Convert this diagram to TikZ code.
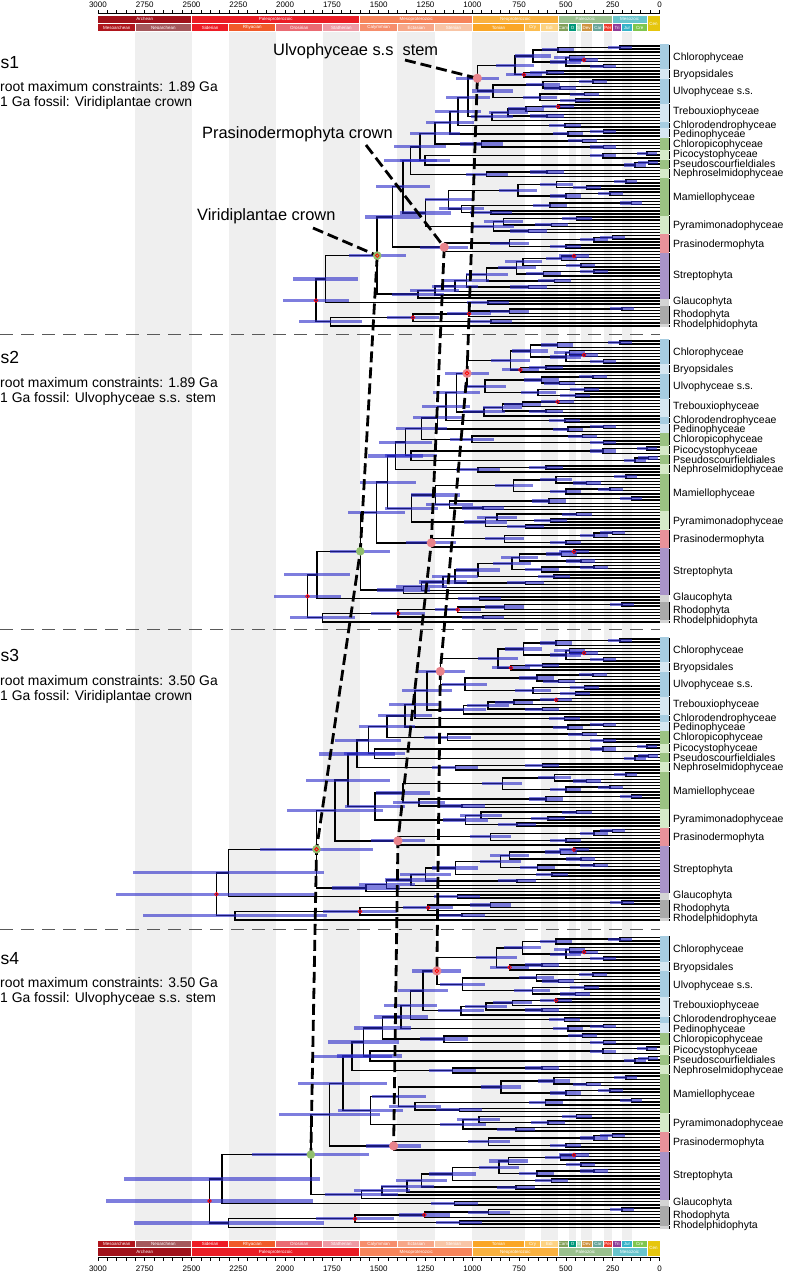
\documentclass[tikz,border=0pt]{standalone}
\usepackage{fontspec}
\setmainfont{Liberation Sans}
\definecolor{bandC}{HTML}{EFEFEF}
\definecolor{cArch}{HTML}{A0121B}\definecolor{cPaleoP}{HTML}{EA1D25}\definecolor{cMesoP}{HTML}{F6845A}
\definecolor{cNeoP}{HTML}{F9B13F}\definecolor{cPaleoz}{HTML}{99C08D}\definecolor{cMesoz}{HTML}{67C4CC}
\definecolor{cCen}{HTML}{E6C60E}
\definecolor{cMesoA}{HTML}{B0151C}\definecolor{cNeoA}{HTML}{A5585C}\definecolor{cSid}{HTML}{EE1C25}
\definecolor{cRhy}{HTML}{F15A29}\definecolor{cOro}{HTML}{EA6B73}\definecolor{cSta}{HTML}{EE9AA5}
\definecolor{cCal}{HTML}{F68E6C}\definecolor{cEct}{HTML}{F7A788}\definecolor{cSte}{HTML}{F8C5A6}
\definecolor{cTon}{HTML}{FAA625}\definecolor{cCry}{HTML}{FCBD4F}\definecolor{cEdi}{HTML}{FDD383}
\definecolor{cCam}{HTML}{82A05A}\definecolor{cOrd}{HTML}{00987A}\definecolor{cSil}{HTML}{A8DDB5}
\definecolor{cDev}{HTML}{CF9440}\definecolor{cCar}{HTML}{67A599}\definecolor{cPer}{HTML}{EF3B2C}
\definecolor{cTri}{HTML}{8E3B97}\definecolor{cJur}{HTML}{34B2C9}\definecolor{cCre}{HTML}{7FC64E}
\definecolor{bA}{HTML}{A7CDE1}\definecolor{bB}{HTML}{D6E7F1}
\definecolor{gA}{HTML}{9BC283}\definecolor{gB}{HTML}{D6EAC9}
\definecolor{pA}{HTML}{E8929A}\definecolor{sA}{HTML}{A893C8}
\definecolor{kA}{HTML}{AAAAAA}\definecolor{kB}{HTML}{D4D4D4}
\definecolor{pinkC}{HTML}{E8838B}\definecolor{greenC}{HTML}{90BE6D}
\definecolor{hpdC}{RGB}{40,40,200}
\newcommand\fsz[1]{\fontsize{#1}{#1}\selectfont}
\newcount\tipn
\newcount\stk
\gdef\BarList{}
\gdef\MarkList{}
\def\AddBar#1{\xdef\BarList{\unexpanded\expandafter{\BarList}#1}}
\def\AddMark#1{\xdef\MarkList{\unexpanded\expandafter{\MarkList}#1}}
\def\Spush#1#2{\global\advance\stk by 1\relax
  \expandafter\xdef\csname SY\the\stk\endcsname{#1}%
  \expandafter\xdef\csname SA\the\stk\endcsname{#2}}
\def\Tp{\pgfmathsetmacro\qTy{\Ybase+\Tsp*\the\tipn}\global\advance\tipn by 1\relax\Spush{\qTy}{0}}
\def\Jn#1{%
  \edef\qYa{\csname SY\the\numexpr\stk-1\relax\endcsname}%
  \edef\qAa{\csname SA\the\numexpr\stk-1\relax\endcsname}%
  \edef\qYb{\csname SY\the\stk\endcsname}%
  \edef\qAb{\csname SA\the\stk\endcsname}%
  \global\advance\stk by -2\relax
  \pgfmathsetmacro\qRr{min(1,max(0,(#1-500)/500))}%
  \pgfmathsetmacro\qNa{#1<1600 ? #1*(1+(\PF-1)*\qRr) : #1*\PR}%
  \pgfmathsetmacro\qXn{659.5-0.1872*\qNa}%
  \pgfmathsetmacro\qXa{659.5-0.1872*\qAa}%
  \pgfmathsetmacro\qXb{659.5-0.1872*\qAb}%
  \pgfmathsetmacro\qYm{(\qYa+\qYb)/2}%
  \draw[br] (\qXa,\qYa) -- (\qXn,\qYa) -- (\qXn,\qYb) -- (\qXb,\qYb);%
  \pgfmathsetmacro\qHw{9+0.013*\qNa+\PE*max(0,\qNa-1500)}%
  \pgfmathsetmacro\qXl{\qXn-\qHw}%
  \pgfmathsetmacro\qXr{min(659,\qXn+\qHw)}%
  \pgfmathsetmacro\qYt{\qYm-1.6}\pgfmathsetmacro\qYu{\qYm+1.6}%
  \AddBar{\noexpand\fill[hpd] (\qXl,\qYt) rectangle (\qXr,\qYu);}%
  \Spush{\qYm}{\qNa}}
\def\RedMark{\AddMark{\noexpand\draw[redring] (\qXn,\qYm) circle[radius=1.8pt];}}
\def\Jr#1{\Jn{#1}\RedMark}
\def\Ju#1{\Jn{#1}\coordinate (ulvo\pn) at (\qXn,\qYm);\AddMark{\noexpand\fill[pinkC] (\qXn,\qYm) circle[radius=4.6pt];}\ifnum\ured=1 \RedMark\fi}
\def\Jq#1{\Jn{#1}\coordinate (prasino\pn) at (\qXn,\qYm);\AddMark{\noexpand\fill[pinkC] (\qXn,\qYm) circle[radius=4.6pt];}}
\def\Jv#1{\Jn{#1}\coordinate (viridi\pn) at (\qXn,\qYm);\AddMark{\noexpand\fill[greenC] (\qXn,\qYm) circle[radius=4.3pt];}\ifnum\vred=1 \RedMark\fi}
\def\TreeRPN{%
\Tp\Tp\Jn{211}\Tp\Jn{543}\Tp\Tp\Tp\Jr{403}\Jn{480}\Tp\Tp\Jn{300}\Jn{500}\Jn{676}%
\Tp\Tp\Jn{600}\Tp\Jr{724}\Jn{772}%
\Tp\Tp\Jn{355}\Tp\Tp\Jn{532}\Jn{622}\Tp\Tp\Jn{400}\Tp\Tp\Jn{450}\Jn{638}\Jn{890}%
\Ju{973}%
\Tp\Tp\Jr{542}\Tp\Jn{713}\Tp\Tp\Jn{600}\Jn{809}\Tp\Jn{895}\Jn{1023}%
\Tp\Tp\Jn{505}\Jn{1076}%
\Tp\Tp\Jn{300}\Tp\Jn{489}\Jn{1119}%
\Tp\Tp\Jn{410}\Tp\Tp\Jn{300}\Jn{950}\Jn{1199}%
\Tp\Tp\Jn{68}\Tp\Jn{302}\Tp\Tp\Jn{60}\Tp\Jn{130}\Jn{1253}\Jn{1280}%
\Tp\Tp\Jn{600}\Tp\Jn{923}\Jn{1330}%
\Tp\Tp\Jn{180}\Tp\Tp\Jn{389}\Jn{550}\Tp\Tp\Jn{264}\Tp\Jn{500}\Jn{756}\Tp\Tp\Jn{150}\Tp\Jn{585}\Tp\Tp\Jn{900}\Jn{1057}\Jn{1128}%
\Tp\Tp\Jn{442}\Tp\Tp\Jn{576}\Jn{834}\Tp\Tp\Jn{700}\Jn{888}\Jn{1250}%
\Jn{1370}%
\Tp\Tp\Jn{250}\Tp\Jn{350}\Tp\Tp\Jn{500}\Jn{800}\Tp\Jq{1150}\Jn{1427}%
\Tp\Tp\Jr{457}\Tp\Jn{523}\Tp\Tp\Jn{420}\Jn{729}\Tp\Tp\Jn{350}\Tp\Jn{620}\Jn{763}\Tp\Tp\Jn{560}\Jn{923}\Tp\Tp\Jn{700}\Jn{1030}\Tp\Jn{1092}\Tp\Jn{1200}\Tp\Jn{1290}%
\Jv{1508}%
\Tp\Tp\Jn{916}\Jn{1785}%
\Tp\Tp\Jn{200}\Tp\Jn{800}\Tp\Jr{1017}\Tp\Tp\Jn{900}\Jr{1317}%
\Tp\Jn{1757}\Jr{1835}}
\newcommand\Panel[8]{%
  \def\pn{#1}\def\Ybase{#2}\def\Tsp{#3}\def\PF{#4}\def\PR{#5}\def\PE{#6}\def\vred{#7}\def\ured{#8}%
  \global\tipn=0 \global\stk=0 \TreeRPN
  \foreach \qi/\qj/\qc/\ql/\qd/\qk in {0/7/bA/Chlorophyceae/0/1, 8/10/bB/Bryopsidales/0/1,
     11/18/bA/Ulvophyceae s.s./0/1, 19/24/bB/Trebouxiophyceae/-2/1, 25/26/bA/Chlorodendrophyceae/-1/1,
     27/29/bB/Pedinophyceae/0.6/1, 30/33/gA/Chloropicophyceae/-0.6/1, 34/36/gB/Picocystophyceae/-0.8/1,
     37/39/gA/Pseudoscourfieldiales/0/1, 40/42/gB/Nephroselmidophyceae/-0.3/1, 43/54/gA/Mamiellophyceae/0/1,
     55/60/gB/Pyramimonadophyceae/0/1, 61/66/pA/Prasinodermophyta/0/1, 67/81/sA/Streptophyta/-1.5/1,
     82/83/kB/Glaucophyta/-1.5/0, 84/89/kA/Rhodophyta/-1.5/1, 90/90/kB/Rhodelphidophyta/-2.5/1}{
    \pgfmathsetmacro\qT{\Ybase+\Tsp*(\qi-0.5)}
    \pgfmathsetmacro\qB{\Ybase+\Tsp*(\qj+0.5)}
    \fill[\qc] (659.5,\qT) rectangle (668.5,\qB);
    \ifnum\qk=1 \draw[line width=1.5pt] (669.6,\qT+0.4) -- (669.6,\qB-0.4);\fi
    \pgfmathsetmacro\qM{(\qT+\qB)/2+\qd+3.7}
    \node[anchor=base west, font=\fsz{10.5}, inner sep=0] at (673,\qM) {\ql};
  }}
\begin{document}
\begin{tikzpicture}[x=1pt,y=-1pt,
  br/.style={line width=1.45pt, black, line join=miter},
  hpd/.style={fill=hpdC, fill opacity=0.6},
  redring/.style={draw=red, line width=0.8pt},
  thickdash/.style={line width=2.8pt, dash pattern=on 11pt off 5pt, black},
  sepline/.style={draw=black!65, line width=0.7pt, dash pattern=on 13pt off 8pt},
  tsl/.style={font=\fsz{4.5}, text=white, inner sep=0},
  axl/.style={font=\fsz{8}, inner sep=0},
  side/.style={font=\fsz{13.9}, anchor=base west, inner sep=0},
  big/.style={font=\fsz{17.5}, anchor=base west, inner sep=0},
  ann/.style={font=\fsz{16.4}, anchor=base west, inner sep=0}]
\useasboundingbox (0,0) rectangle (788,1275);
\fill[white] (0,0) rectangle (788,1275);
% period shading
\foreach \qa/\qb in {2800/2500, 2300/2050, 1800/1600, 1400/1200, 1000/720, 635/541, 485/444, 419/359, 299/252, 201/145}{
  \fill[bandC] ({659.5-0.1872*\qa},32) rectangle ({659.5-0.1872*\qb},1240);}
% time scales
\foreach \qa/\qb/\qc/\ql in {3000/2500/cArch/Archean, 2500/1600/cPaleoP/Paleoproterozoic, 1600/1000/cMesoP/Mesoproterozoic,
   1000/541/cNeoP/Neoproterozoic, 541/252/cPaleoz/Paleozoic, 252/66/cMesoz/Mesozoic}{
  \pgfmathsetmacro\qL{659.5-0.1872*\qa+0.5}\pgfmathsetmacro\qR{659.5-0.1872*\qb-0.5}
  \fill[\qc] (\qL,16) rectangle (\qR,22.7);
  \node[tsl] at ({(\qL+\qR)/2},19.35) {\ql};
  \fill[\qc] (\qL,1248.4) rectangle (\qR,1256);
  \node[tsl] at ({(\qL+\qR)/2},1252.2) {\ql};}
\foreach \qa/\qb/\qc/\ql in {3000/2800/cMesoA/Mesoarchean, 2800/2500/cNeoA/Neoarchean, 2500/2300/cSid/Siderian,
   2300/2050/cRhy/Rhyacian, 2050/1800/cOro/Orosirian, 1800/1600/cSta/Statherian, 1600/1400/cCal/Calymmian,
   1400/1200/cEct/Ectasian, 1200/1000/cSte/Stenian, 1000/720/cTon/Tonian, 720/635/cCry/Cry, 635/541/cEdi/Edi,
   541/485/cCam/Cam, 485/444/cOrd/O, 444/419/cSil/S, 419/359/cDev/Dev, 359/299/cCar/Car, 299/252/cPer/Per,
   252/201/cTri/Tri, 201/145/cJur/Jur, 145/66/cCre/Cre}{
  \pgfmathsetmacro\qL{659.5-0.1872*\qa+0.5}\pgfmathsetmacro\qR{659.5-0.1872*\qb-0.5}
  \fill[\qc] (\qL,24) rectangle (\qR,31);
  \node[tsl] at ({(\qL+\qR)/2},27.5) {\ql};
  \fill[\qc] (\qL,1240.7) rectangle (\qR,1247.2);
  \node[tsl] at ({(\qL+\qR)/2},1244) {\ql};}
\fill[cCen] ({659.5-0.1872*66+0.5},16) rectangle (659.5,31);
\node[tsl] (cenT) at ({(659.5-0.1872*66+0.5+659.5)/2},23.5) {Cen};
\fill[cCen] ({659.5-0.1872*66+0.5},1240.7) rectangle (659.5,1256);
\node[tsl] (cenB) at ({(659.5-0.1872*66+0.5+659.5)/2},1248.4) {Cen};
% axes
\draw[line width=0.7pt] (97.9,13.8) -- (659.5,13.8);
\draw[line width=0.7pt] (97.9,1257.4) -- (659.5,1257.4);
\foreach \qa in {0,50,...,3000}{
  \draw[line width=0.6pt] ({659.5-0.1872*\qa},13.8) -- ({659.5-0.1872*\qa},10.2);
  \draw[line width=0.6pt] ({659.5-0.1872*\qa},1257.4) -- ({659.5-0.1872*\qa},1261);}
\foreach \qa in {0,250,...,3000}{
  \node[axl] at ({659.5-0.1872*\qa},4.5) {\qa};
  \node[axl] at ({659.5-0.1872*\qa},1268.5) {\qa};}
% separators
\foreach \qy in {334,629,929}{\draw[sepline] (0,\qy) -- (660,\qy);}
% panels
\Panel{1}{46}{3.11}{1}{1}{0}{1}{0}
\Panel{2}{341}{3.12}{1.06}{1.025}{0}{0}{1}
\Panel{3}{639}{3.12}{1.215}{1.29}{0.07}{1}{0}
\Panel{4}{937.6}{3.22}{1.235}{1.31}{0.07}{0}{1}
% HPD bars on top of branches
\BarList
% panel texts
\node[big] (t1) at (0.5,68.3) {s1};
\node[side] (r1) at (0,91.7) {root maximum constraints: 1.89 Ga};
\node[side] (f1) at (0,106.7) {1 Ga fossil: Viridiplantae crown};
\node[big] (t2) at (0.5,363.6) {s2};
\node[side] (r2) at (0,387) {root maximum constraints: 1.89 Ga};
\node[side] (f2) at (0,402) {1 Ga fossil: Ulvophyceae s.s. stem};
\node[big] (t3) at (0.5,661.6) {s3};
\node[side] (r3) at (0,685) {root maximum constraints: 3.50 Ga};
\node[side] (f3) at (0,700) {1 Ga fossil: Viridiplantae crown};
\node[big] (t4) at (0.5,964.3) {s4};
\node[side] (r4) at (0,987.7) {root maximum constraints: 3.50 Ga};
\node[side] (f4) at (0,1002.7) {1 Ga fossil: Ulvophyceae s.s. stem};
% annotations
\node[ann] (lu) at (273,55) {Ulvophyceae s.s\ \ stem};
\node[ann] (lp) at (202,138.4) {Prasinodermophyta crown};
\node[ann] (lv) at (197,220) {Viridiplantae crown};
\coordinate (ulvoL) at (405,60);
\coordinate (prasinoL) at (366,145);
\coordinate (viridiL) at (313,228);
\draw[thickdash] (ulvoL) -- (ulvo1);
\draw[thickdash] (prasinoL) -- (prasino1);
\draw[thickdash] (viridiL) -- (viridi1);
\draw[thickdash] (ulvo1) -- (ulvo2) -- (ulvo3) -- (ulvo4);
\draw[thickdash] (prasino1) -- (prasino2) -- (prasino3) -- (prasino4);
\draw[thickdash] (viridi1) -- (viridi2) -- (viridi3) -- (viridi4);
% node markers
\MarkList
\end{tikzpicture}
\end{document}
